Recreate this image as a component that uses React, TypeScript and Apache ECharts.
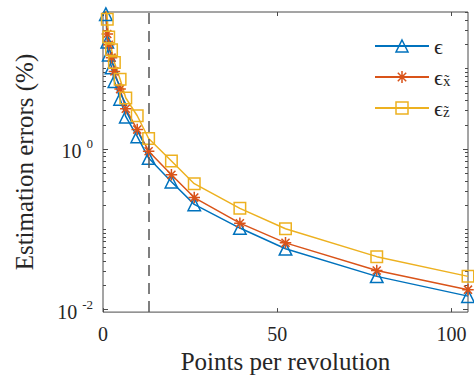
import React, { useEffect, useRef } from 'react';
import * as echarts from 'echarts';

// Points per revolution (x) and estimation errors in % (y, log scale)
const ppr = [0.82, 1.23, 1.64, 2.45, 3.27, 4.91, 6.54, 9.82, 13.09, 19.63, 26.18, 39.27, 52.36, 78.54, 104.72];
const errEps = [47.6, 21.6, 14.9, 10.3, 6.97, 4.19, 2.52, 1.43, 0.769, 0.39, 0.204, 0.1035, 0.0571, 0.0259, 0.0147];
const errEpsX = [58, 27.0, 19.8, 13.7, 9.24, 5.56, 3.16, 1.74, 0.937, 0.476, 0.248, 0.119, 0.0677, 0.0307, 0.0177];
const errEpsZ = [80, 41.3, 24.8, 17.2, 11.9, 7.37, 4.31, 2.59, 1.35, 0.706, 0.369, 0.182, 0.1014, 0.0456, 0.0259];

const thresholdPPR = 13;
const xTicks = [0, 50, 100];
const yLabelTicks = [0.01, 1];
const yMinorTicks = [
  0.02, 0.03, 0.04, 0.05, 0.06, 0.07, 0.08, 0.09,
  0.1, 0.2, 0.3, 0.4, 0.5, 0.6, 0.7, 0.8, 0.9,
  2, 3, 4, 5, 6, 7, 8, 9, 10, 20, 30, 40, 50,
];
const xMin = 0;
const xMax = 104.72;
const yMin = 0.0093;
const yMax = 50.7;

const seriesNames = ['eps', 'epsx', 'epsz'];
const legendLabels: Record<string, string> = {
  eps: '{e|\u03F5}',
  epsx: '{e|\u03F5}{s|x\u0303}',
  epsz: '{e|\u03F5}{s|z\u0303}',
};

const BLUE = '#0072BD';
const ORANGE = '#D95319';
const YELLOW = '#EDB120';
const AX = '#4a4a4a';
const TXT = '#262626';
const FONT = 'Liberation Serif';
const STAR = 'path://M0,-10L0,10M-10,0L10,0M-7,-7L7,7M-7,7L7,-7';

export default function App() {
  const ref = useRef<HTMLDivElement>(null);
  useEffect(() => {
    if (!ref.current) return;
    const chart = echarts.init(ref.current, undefined, { renderer: 'svg' });
    const mkSeries = (name: string, vals: number[], color: string, symbol: string, size: number) => ({
      name,
      type: 'line',
      data: ppr.map((x, i) => [x, vals[i]]),
      symbol,
      symbolSize: size,
      showAllSymbol: true,
      clip: true,
      lineStyle: { color, width: 1.5 },
      itemStyle: { color: 'rgba(0,0,0,0)', borderColor: color, borderWidth: 1.5 },
      emphasis: { disabled: true },
    });
    const yBase = {
      type: 'log',
      logBase: 10,
      min: yMin,
      max: yMax,
      axisLine: { show: false },
      splitLine: { show: false },
      minorTick: { show: false },
    };
    const s0: any = mkSeries(seriesNames[0], errEps, BLUE, 'triangle', 12.5);
    s0.markLine = {
      silent: true,
      symbol: ['none', 'none'],
      label: { show: false },
      lineStyle: { color: '#555555', type: [11, 7], width: 1.5 },
      data: [{ xAxis: thresholdPPR }],
    };
    const option: any = {
      animation: false,
      textStyle: { fontFamily: FONT },
      grid: {
        left: 103, top: 12, right: 6, bottom: 63,
        show: true, borderColor: AX, borderWidth: 1, backgroundColor: 'transparent',
      },
      xAxis: [
        {
          type: 'value', position: 'bottom', min: xMin, max: xMax,
          axisLine: { show: false }, splitLine: { show: false },
          axisTick: { inside: true, length: 4, customValues: xTicks, lineStyle: { color: AX } },
          axisLabel: { customValues: xTicks, margin: 12, fontFamily: FONT, fontSize: 20, color: TXT },
          name: 'Points per revolution', nameLocation: 'middle', nameGap: 36,
          nameTextStyle: { fontFamily: FONT, fontSize: 25, color: TXT },
        },
        {
          type: 'value', position: 'top', min: xMin, max: xMax,
          axisLine: { show: false }, splitLine: { show: false },
          axisTick: { inside: true, length: 4, customValues: xTicks, lineStyle: { color: AX } },
          axisLabel: { show: false },
        },
      ],
      yAxis: [
        {
          ...yBase, position: 'left',
          axisTick: { inside: true, length: 5, customValues: yLabelTicks, lineStyle: { color: AX } },
          axisLabel: {
            customValues: yLabelTicks, margin: 10,
            formatter: (v: number) => `{b|10}{e|${Math.round(Math.log10(v))}}`,
            rich: {
              b: { fontFamily: FONT, fontSize: 20, lineHeight: 24, verticalAlign: 'bottom', color: TXT },
              e: { fontFamily: FONT, fontSize: 13, lineHeight: 13, verticalAlign: 'top', color: TXT, padding: [0, 0, 0, 5] },
            },
          },
          name: 'Estimation errors (%)', nameLocation: 'middle', nameGap: 66,
          nameTextStyle: { fontFamily: FONT, fontSize: 25, color: TXT },
        },
        {
          ...yBase, position: 'left',
          axisTick: { inside: true, length: 3, customValues: yMinorTicks, lineStyle: { color: AX } },
          axisLabel: { show: false },
        },
        {
          ...yBase, position: 'right',
          axisTick: { inside: true, length: 5, customValues: yLabelTicks, lineStyle: { color: AX } },
          axisLabel: { show: false },
        },
        {
          ...yBase, position: 'right',
          axisTick: { inside: true, length: 3, customValues: yMinorTicks, lineStyle: { color: AX } },
          axisLabel: { show: false },
        },
      ],
      legend: {
        orient: 'vertical', left: 369, top: 30,
        itemWidth: 54, itemHeight: 15, itemGap: 5,
        selectedMode: false,
        data: seriesNames,
        formatter: (name: string) => legendLabels[name],
        itemStyle: { borderWidth: 1.5 },
        textStyle: {
          fontFamily: FONT,
          rich: {
            e: { fontFamily: FONT, fontSize: 22, lineHeight: 22, padding: [0, 0, 4, 0], verticalAlign: 'top', color: TXT },
            s: { fontFamily: FONT, fontSize: 15, lineHeight: 15, verticalAlign: 'bottom', color: TXT },
          },
        },
      },
      series: [
        s0,
        mkSeries(seriesNames[1], errEpsX, ORANGE, STAR, 11.5),
        mkSeries(seriesNames[2], errEpsZ, YELLOW, 'rect', 11.5),
      ],
    };
    chart.setOption(option);
    return () => chart.dispose();
  }, []);
  return <div ref={ref} style={{ position: 'fixed', left: 0, top: 0, width: 474, height: 379, background: '#fff' }} />;
}
